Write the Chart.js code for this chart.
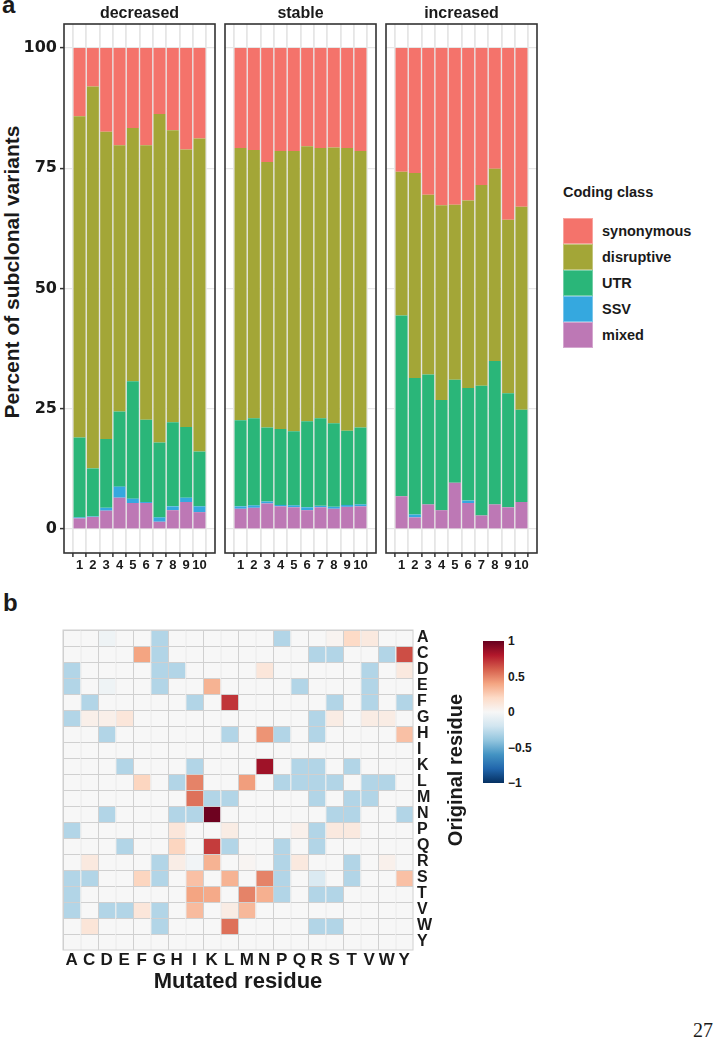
<!DOCTYPE html>
<html>
<head>
<meta charset="utf-8">
<script src="https://cdn.jsdelivr.net/npm/chart.js@4.4.1/dist/chart.umd.min.js"></script>
<style>
  body { margin: 0; background: #fff; width: 724px; height: 1050px; position: relative; overflow: hidden;
         font-family: "Liberation Sans", Arial, sans-serif; color: #1a1a1a; }
  .abs { position: absolute; }
  .bold { font-weight: bold; }
  #legendA .item { display: flex; align-items: center; height: 26px; }
  #legendA .key { width: 30px; height: 26px; margin-right: 9px; box-sizing: border-box; border: 1px solid rgba(255,255,255,0.35); }
  .cbl { position: absolute; left: 508px; font-size: 12px; font-weight: bold; line-height: 14px; }
</style>
</head>
<body>
<div class="abs bold" style="left:2px;top:-7px;font-size:24px;line-height:24px">a</div>
<div class="abs bold" style="left:3px;top:591px;font-size:24px;line-height:24px">b</div>

<div class="abs bold" style="left:-188px;top:259px;width:400px;text-align:center;font-size:21px;line-height:26px;transform:rotate(-90deg)">Percent of subclonal variants</div>

<div class="abs" style="left:0;top:0;width:222px;height:580px"><canvas id="chartDecreased"></canvas></div>
<div class="abs" style="left:218px;top:0;width:165px;height:580px"><canvas id="chartStable"></canvas></div>
<div class="abs" style="left:379px;top:0;width:165px;height:580px"><canvas id="chartIncreased"></canvas></div>

<div id="legendA" class="abs bold" style="left:563px;top:182px;font-size:14.5px">
  <div style="height:36px;line-height:20px">Coding class</div>
</div>

<div class="abs" style="left:40px;top:598px;width:410px;height:402px"><canvas id="chartHeat"></canvas></div>
<div class="abs bold" style="left:255px;top:757px;width:400px;text-align:center;font-size:20px;line-height:26px;transform:rotate(-90deg)">Original residue</div>
<div id="colorBar" class="abs" style="left:483px;top:641px;width:21px;height:142px"></div>
<div id="colorBarLabels"></div>

<div class="abs" style="left:693px;top:1019px;font-family:'Liberation Serif','DejaVu Serif',serif;font-size:20px">27</div>

<script>
// ---- panel a data ----
const sampleLabels = ['1', '2', '3', '4', '5', '6', '7', '8', '9', '10'];
const trendGroups = ['decreased', 'stable', 'increased'];
const codingClasses = ['synonymous', 'disruptive', 'UTR', 'SSV', 'mixed'];
const classColors = ['#f4736b', '#a3a637', '#2ab679', '#35a8df', '#bd78b5'];
const percentTicks = [0, 25, 50, 75, 100];

const decSynonymous = [14.2, 8.0, 17.4, 20.2, 16.6, 20.2, 13.7, 17.1, 21.1, 18.8];
const decDisruptive = [66.8, 79.4, 63.9, 55.4, 52.7, 57.1, 68.3, 60.7, 57.7, 65.1];
const decUTR        = [16.6, 10.0, 14.3, 15.6, 24.4, 17.1, 15.6, 17.5, 14.7, 11.4];
const decSSV        = [0.2, 0.1, 0.6, 2.3, 0.9, 0.2, 0.9, 0.8, 0.9, 1.2];
const decMixed      = [2.2, 2.5, 3.8, 6.5, 5.4, 5.4, 1.5, 3.9, 5.6, 3.5];

const staSynonymous = [20.8, 21.2, 23.7, 21.4, 21.4, 20.4, 20.8, 20.7, 20.8, 21.4];
const staDisruptive = [56.6, 55.8, 55.2, 57.8, 58.3, 57.2, 56.2, 57.3, 58.8, 57.5];
const staUTR        = [17.9, 18.1, 15.4, 15.8, 15.4, 17.9, 18.2, 17.4, 15.4, 16.0];
const staSSV        = [0.5, 0.5, 0.4, 0.3, 0.4, 0.6, 0.3, 0.4, 0.4, 0.4];
const staMixed      = [4.2, 4.4, 5.3, 4.7, 4.5, 3.9, 4.5, 4.2, 4.6, 4.7];

const incSynonymous = [25.7, 26.0, 30.5, 32.7, 32.6, 31.7, 28.5, 25.1, 35.7, 33.0];
const incDisruptive = [29.9, 42.6, 37.4, 40.5, 36.4, 39.0, 41.7, 40.0, 36.1, 42.2];
const incUTR        = [37.6, 28.4, 27.0, 22.9, 21.4, 23.4, 27.0, 29.8, 23.7, 19.2];
const incSSV        = [0, 0.6, 0, 0, 0, 0.5, 0, 0, 0, 0];
const incMixed      = [6.8, 2.4, 5.1, 3.9, 9.6, 5.4, 2.8, 5.1, 4.5, 5.6];

// ---- panel b data (rows = original residue, columns = mutated residue) ----
const residues = ['A', 'C', 'D', 'E', 'F', 'G', 'H', 'I', 'K', 'L', 'M', 'N', 'P', 'Q', 'R', 'S', 'T', 'V', 'W', 'Y'];
const rowA = [0, 0, -0.05, 0, 0, -0.3, 0, 0, 0, 0, 0, 0, -0.3, 0, 0, 0.03, 0.2, 0.1, 0, 0];
const rowC = [0, 0, 0, 0, 0.4, -0.3, 0, 0, 0, 0, 0, 0, 0, 0, -0.3, -0.3, 0, 0, -0.3, 0.65];
const rowD = [-0.3, 0, 0, 0, 0, -0.3, -0.3, 0, 0, 0, 0, 0.12, 0, 0, 0, 0, 0, -0.3, 0, 0.1];
const rowE = [-0.3, 0, -0.05, 0, 0, -0.3, 0, 0, 0.35, 0, 0, 0, 0, -0.3, 0, 0, 0, -0.3, 0, 0];
const rowF = [0, -0.3, 0, 0, 0, 0, 0, -0.3, 0, 0.72, 0, 0, 0, 0, 0, -0.3, 0, -0.3, 0, -0.3];
const rowG = [-0.3, 0.06, 0.06, 0.12, 0, 0, 0, 0, 0, 0, 0, 0, 0, 0, -0.3, 0.08, 0, 0.08, 0.08, 0];
const rowH = [0, 0, -0.3, 0, 0, 0, 0, 0, 0, -0.3, 0, 0.45, -0.3, 0, -0.3, 0, 0, 0, 0, 0.3];
const rowI = [0, 0, 0, 0, 0, 0, 0, 0, 0, 0, 0, 0, 0, 0, 0, 0, 0, 0, 0, 0];
const rowK = [0, 0, 0, -0.3, 0, 0, 0, -0.3, 0, 0, 0, 0.85, 0, -0.3, -0.3, 0, -0.3, 0, 0, 0];
const rowL = [0, 0, 0, 0, 0.22, 0, -0.3, 0.5, 0, 0, 0.42, 0, -0.3, -0.3, -0.3, -0.3, 0, -0.3, -0.3, 0];
const rowM = [0, 0, 0, 0, 0, 0, 0, 0.55, -0.3, -0.3, 0, 0, 0, 0, -0.3, 0, -0.3, -0.3, 0, 0];
const rowN = [0, 0, -0.3, 0, 0, 0, -0.3, -0.3, 0.98, 0, 0, 0, 0, 0, 0, -0.3, -0.3, 0, 0, -0.3];
const rowP = [-0.3, 0, 0, 0, 0, 0, 0.12, 0, 0, 0.08, 0, 0, 0, 0.05, -0.3, 0.1, 0.1, 0, 0, 0];
const rowQ = [0, 0, 0, -0.3, 0, 0, 0.22, 0, 0.7, -0.3, 0, 0, -0.3, 0, -0.3, 0, 0, 0, 0, 0];
const rowR = [0, 0.1, 0, 0, 0, -0.3, 0.07, -0.03, 0.35, 0, 0.02, 0, -0.3, 0.1, 0, 0, -0.3, 0, 0.05, 0];
const rowS = [-0.3, -0.3, 0, 0, 0.22, -0.3, 0, 0.3, 0, 0.35, 0, 0.5, -0.3, 0, -0.15, 0, -0.3, 0, 0, 0.3];
const rowT = [-0.3, 0, 0, 0, 0, 0, 0, 0.4, 0.38, 0, 0.5, 0.36, -0.3, 0, -0.3, -0.3, 0, 0, 0, 0];
const rowV = [-0.3, 0, -0.3, -0.3, 0.12, -0.3, 0, 0.32, 0, 0.08, 0.33, 0, 0, 0, 0, 0, 0, 0, 0, 0];
const rowW = [0, 0.13, 0, 0, 0, -0.3, 0, 0, 0, 0.55, 0, 0, 0, 0, -0.3, -0.3, 0, 0, 0, 0];
const rowY = [0, 0, 0, 0, 0, 0, 0, 0, 0, 0, 0, 0, 0, 0, 0, 0, 0, 0, 0, 0];
const colorBarTicks = [1, 0.5, 0, -0.5, -1];

const corrRows = [rowA, rowC, rowD, rowE, rowF, rowG, rowH, rowI, rowK, rowL,
                  rowM, rowN, rowP, rowQ, rowR, rowS, rowT, rowV, rowW, rowY];
const groupTable = {
  decreased: [decSynonymous, decDisruptive, decUTR, decSSV, decMixed],
  stable: [staSynonymous, staDisruptive, staUTR, staSSV, staMixed],
  increased: [incSynonymous, incDisruptive, incUTR, incSSV, incMixed]
};

const SANS = '"Liberation Sans", Arial, sans-serif';
const INK = '#1a1a1a';
Chart.defaults.font.family = SANS;
Chart.defaults.color = INK;

// outline around the plotting area
const panelBox = {
  id: 'panelBox',
  afterDatasetsDraw(chart, args, opts) {
    const { ctx, chartArea: a } = chart;
    ctx.save();
    ctx.strokeStyle = opts.color;
    ctx.lineWidth = opts.width;
    ctx.strokeRect(a.left, a.top, a.right - a.left, a.bottom - a.top);
    ctx.restore();
  }
};

function stackedPanel(canvasId, group, withAxis) {
  const series = groupTable[group];
  // ggplot stacks the first level on top, so draw from the last one upwards
  const datasets = codingClasses.map((name, i) => ({
    label: name,
    data: series[i].map((v, j) => ({ x: Number(sampleLabels[j]), y: v })),
    backgroundColor: classColors[i],
    borderWidth: 0,
    barPercentage: 0.9,
    categoryPercentage: 1
  })).reverse();

  return new Chart(document.getElementById(canvasId), {
    type: 'bar',
    data: { datasets },
    plugins: [panelBox],
    options: {
      responsive: true,
      maintainAspectRatio: false,
      animation: false,
      layout: { padding: { left: withAxis ? 0 : 7, right: 7, top: 0, bottom: 0 } },
      plugins: {
        legend: { display: false },
        tooltip: { enabled: false },
        title: {
          display: true, text: group, fullSize: false, color: INK,
          font: { size: 16, weight: 'bold', lineHeight: 1 },
          padding: { top: 6, bottom: 2 }
        },
        panelBox: { color: '#333', width: 1.6 }
      },
      scales: {
        x: {
          type: 'linear', stacked: true, min: 0.4, max: 10.6,
          afterBuildTicks: s => { s.ticks = sampleLabels.map(l => ({ value: Number(l) })); },
          afterFit: s => { s.height = 27; },
          grid: { color: '#e6e6e6', lineWidth: 1.8, tickColor: '#333', tickLength: 4, tickWidth: 1.5 },
          border: { display: false },
          ticks: { font: { size: 13, weight: 'bold' }, color: INK, padding: 1, maxRotation: 0, autoSkip: false }
        },
        y: {
          stacked: true, min: -5, max: 105,
          afterBuildTicks: s => { s.ticks = percentTicks.map(v => ({ value: v })); },
          afterFit: s => { s.width = withAxis ? 64 : 0; },
          grid: { color: '#e6e6e6', lineWidth: 1.2, drawTicks: withAxis, tickColor: '#333', tickLength: 4, tickWidth: 1.5 },
          border: { display: false },
          ticks: {
            display: withAxis, color: INK, padding: 3,
            font: { family: '"DejaVu Sans", sans-serif', size: 16, weight: 'bold' }
          }
        }
      }
    }
  });
}

stackedPanel('chartDecreased', trendGroups[0], true);
stackedPanel('chartStable', trendGroups[1], false);
stackedPanel('chartIncreased', trendGroups[2], false);

// HTML legend for the coding classes
const legendBox = document.getElementById('legendA');
codingClasses.forEach((name, i) => {
  const item = document.createElement('div');
  item.className = 'item';
  item.innerHTML = `<span class="key" style="background:${classColors[i]}"></span><span>${name}</span>`;
  legendBox.appendChild(item);
});

// ---- RdBu colour scale ----
const rdbuStops = ['#053061', '#2166ac', '#4393c3', '#92c5de', '#d1e5f0', '#f7f7f7',
                   '#fddbc7', '#f4a582', '#d6604d', '#b2182b', '#67001f'];
function hexToRgb(h) {
  return [1, 3, 5].map(k => parseInt(h.slice(k, k + 2), 16));
}
function rdbu(v) {
  const t = (Math.max(-1, Math.min(1, v)) + 1) / 2 * (rdbuStops.length - 1);
  const i = Math.min(Math.floor(t), rdbuStops.length - 2);
  const f = t - i;
  const a = hexToRgb(rdbuStops[i]), b = hexToRgb(rdbuStops[i + 1]);
  const c = a.map((x, k) => Math.round(x + (b[k] - x) * f));
  return `rgb(${c[0]},${c[1]},${c[2]})`;
}

// ---- heatmap: one stacked dataset per original residue ----
const heatDatasets = corrRows.map((row, r) => ({
  label: residues[r],
  data: row.map(() => 1),
  backgroundColor: row.map(rdbu),
  borderColor: '#d0d0d0',
  borderWidth: { top: 1, left: 1, right: 0, bottom: 0 },
  borderSkipped: false,
  inflateAmount: 0,
  barPercentage: 1,
  categoryPercentage: 1,
  yAxisID: 'y'
}));

new Chart(document.getElementById('chartHeat'), {
  type: 'bar',
  data: { labels: residues, datasets: heatDatasets },
  plugins: [panelBox],
  options: {
    responsive: true,
    maintainAspectRatio: false,
    animation: false,
    layout: { padding: { left: 23, top: 32, right: 7, bottom: 0 } },
    plugins: {
      legend: { display: false },
      tooltip: { enabled: false },
      panelBox: { color: '#d0d0d0', width: 1 }
    },
    scales: {
      x: {
        type: 'category', stacked: true, offset: true,
        afterFit: s => { s.height = 50; },
        grid: { display: false, drawTicks: false, tickLength: 0 },
        border: { display: false },
        ticks: { font: { size: 17, weight: 'bold', lineHeight: 1 }, color: INK, padding: 2, maxRotation: 0, autoSkip: false },
        title: { display: true, text: 'Mutated residue', color: INK, font: { size: 22, weight: 'bold', lineHeight: 1.2 }, padding: { top: 0, bottom: 5 } }
      },
      y: {
        type: 'linear', stacked: true, min: 0, max: 20, reverse: true, display: false
      },
      yLab: {
        type: 'category', labels: residues, position: 'right', offset: true,
        afterFit: s => { s.width = 30; },
        grid: { display: false, drawTicks: false, tickLength: 0 },
        border: { display: false },
        ticks: { font: { size: 16, weight: 'bold', lineHeight: 1 }, color: INK, padding: 4, autoSkip: false }
      }
    }
  }
});

// colour bar legend
document.getElementById('colorBar').style.background =
  'linear-gradient(to bottom,' + rdbuStops.slice().reverse().join(',') + ')';
const cbl = document.getElementById('colorBarLabels');
colorBarTicks.forEach(v => {
  const d = document.createElement('div');
  d.className = 'cbl';
  d.style.top = (641 + (1 - v) / 2 * 142 - 7) + 'px';
  d.textContent = v < 0 ? '\u2212' + Math.abs(v) : String(v);
  cbl.appendChild(d);
});
</script>
</body>
</html>
